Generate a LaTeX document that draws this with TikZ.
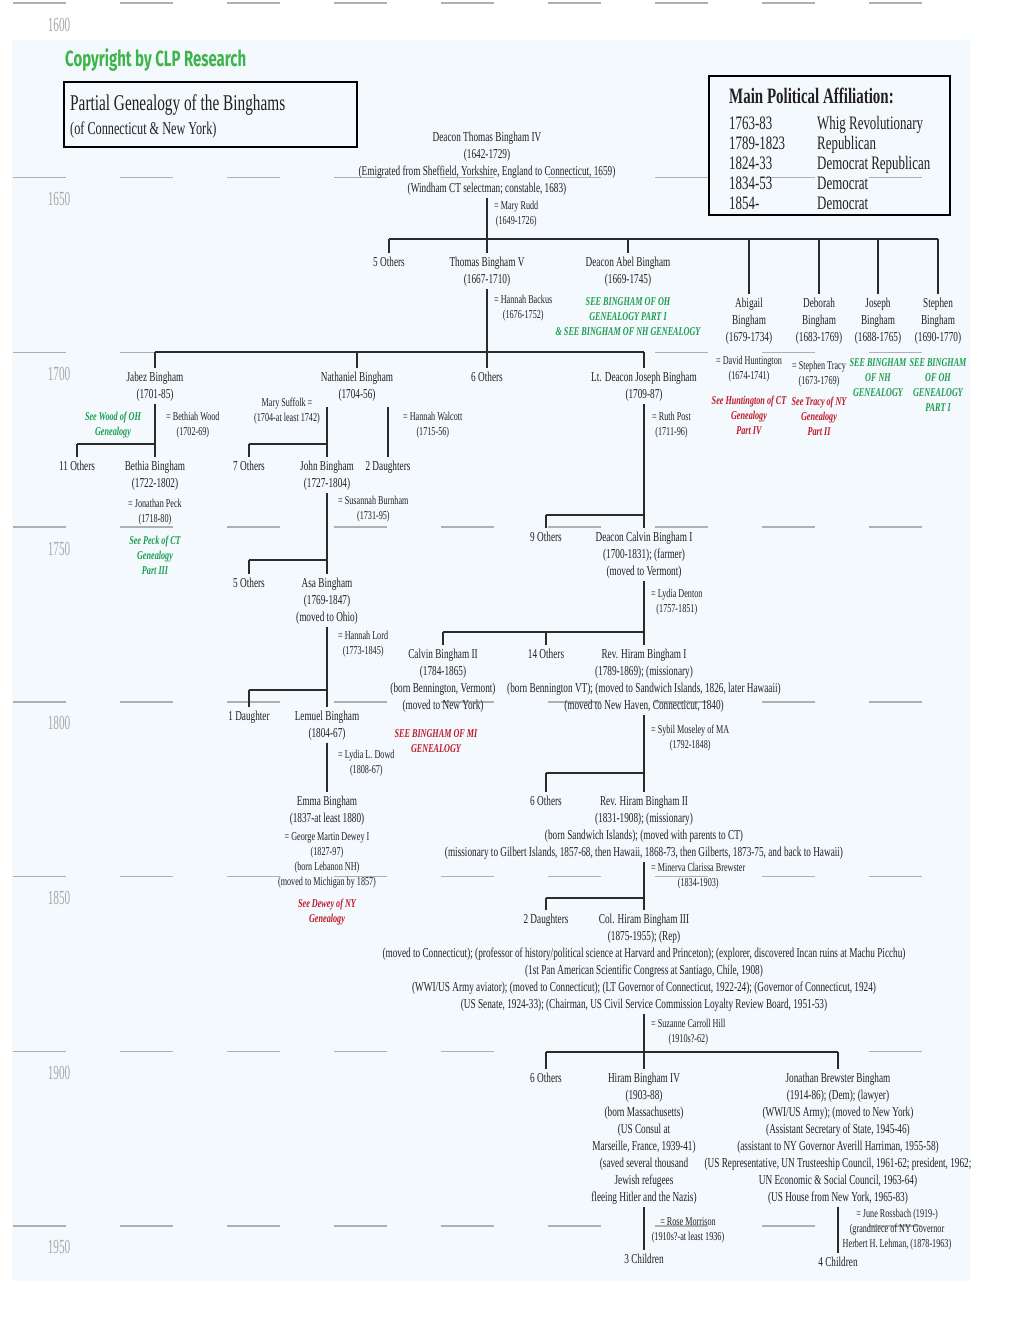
\documentclass[tikz,border=0pt]{standalone}
\usepackage{fontspec}
\setmainfont{Liberation Serif}[FakeStretch=0.68]
\newfontfamily\cpfont{Fira Sans}[FakeStretch=0.68]
\newfontfamily\yrfont{Liberation Serif}[FakeStretch=0.56]
\definecolor{bgc}{HTML}{F3F9FD}
\definecolor{txt}{HTML}{231F20}
\definecolor{linec}{HTML}{2B2B2B}
\definecolor{grn}{HTML}{1A9E4E}
\definecolor{cpg}{HTML}{3DB54A}
\definecolor{redc}{HTML}{C0182A}
\definecolor{tl}{HTML}{B0B0B0}
\definecolor{yr}{HTML}{A8A8A8}
\tikzset{
  P/.style={font=\fontsize{13.6}{17}\selectfont, align=center, inner sep=0pt, anchor=north, yshift=5pt, text=txt},
  S/.style={font=\fontsize{12}{15}\selectfont, align=center, inner sep=0pt, anchor=north, yshift=4.3pt, text=txt},
  SL/.style={S, anchor=north west},
  G/.style={font=\fontsize{12}{15}\selectfont\bfseries\itshape, align=center, inner sep=0pt, anchor=north, yshift=4.3pt, text=grn},
  R/.style={G, text=redc},
  tree/.style={line width=1.9pt, draw=linec},
  down/.style={tree, shorten <=2pt, shorten >=4pt},
  drop/.style={tree, shorten >=4pt},
  yrs/.style={font=\yrfont\fontsize{20}{20}\selectfont, text=yr, inner sep=0pt, anchor=base, yshift=-7pt},
  aff/.style={font=\fontsize{19}{19}\selectfont, text=txt, inner sep=0pt, anchor=base west, yshift=-6pt},
}
\begin{document}
\begin{tikzpicture}[x=1pt,y=-1pt]
\useasboundingbox (0,0) rectangle (1020,1320);
\fill[white] (0,0) rectangle (1020,1320);
\fill[bgc] (12,40) rectangle (970,1281);
% timeline
\foreach \k/\yy in {0/1600,1/1650,2/1700,3/1750,4/1800,5/1850,6/1900,7/1950}{
  \pgfmathsetmacro{\ty}{3+174.7*\k}
  \foreach \i in {0,...,8}{
    \draw[tl, line width=1.4pt] ({13+107*\i},\ty) -- ({66+107*\i},\ty);
  }
  \node[yrs] (y\yy) at (59,{\ty+21}) {\yy};
}
% header
\node[font=\cpfont\bfseries\fontsize{22}{22}\selectfont, text=cpg, anchor=west, inner sep=0pt] (cp) at (65,60) {Copyright by CLP Research};
\draw[line width=2.4pt, black] (64,82) rectangle (357,147);
\node[font=\fontsize{22.5}{22.5}\selectfont, text=txt, anchor=base west, inner sep=0pt] (title) at (70,110) {Partial Genealogy of the Binghams};
\node[font=\fontsize{18}{18}\selectfont, text=txt, anchor=base west, inner sep=0pt] (subtitle) at (70,134) {(of Connecticut \& New York)};
\draw[line width=2.4pt, black] (709,76) rectangle (950,215);
\node[font=\fontsize{22}{22}\selectfont\bfseries, text=txt, anchor=base west, inner sep=0pt] (afft) at (729,103) {Main Political Affiliation:};
\node[aff] (a1) at (729,123) {1763-83};     \node[aff] (b1) at (817,123) {Whig Revolutionary};
\node[aff] (a2) at (729,143) {1789-1823};   \node[aff] (b2) at (817,143) {Republican};
\node[aff] (a3) at (729,163) {1824-33};     \node[aff] (b3) at (817,163) {Democrat Republican};
\node[aff] (a4) at (729,183) {1834-53};     \node[aff] (b4) at (817,183) {Democrat};
\node[aff] (a5) at (729,203) {1854-};       \node[aff] (b5) at (817,203) {Democrat};

% level y coordinates
\coordinate (L1) at (0,239);
\coordinate (L2) at (0,352);
\coordinate (L3) at (0,444);
\coordinate (N3) at (0,407);
\coordinate (L4) at (0,560);
\coordinate (L4b) at (0,515);
\coordinate (L5) at (0,690);
\coordinate (L5b) at (0,632);
\coordinate (L6) at (0,773);
\coordinate (L7) at (0,898);
\coordinate (L8) at (0,1052);

% generation 1
\node[P] (t4) at (487,137) {Deacon Thomas Bingham IV\\(1642-1729)\\(Emigrated from Sheffield, Yorkshire, England to Connecticut, 1659)\\(Windham CT selectman; constable, 1683)};
\node[SL] (mr) at (494,205) {= Mary Rudd\\(1649-1726)};
% generation 2
\node[P] (o5a) at (389,262) {5 Others};
\node[P] (t5) at (487,262) {Thomas Bingham V\\(1667-1710)};
\node[P] (abel) at (628,262) {Deacon Abel Bingham\\(1669-1745)};
\node[SL] (hb) at (494,299) {= Hannah Backus\\(1676-1752)};
\node[G] (gabel) at (628,302) {SEE BINGHAM OF OH\\GENEALOGY PART I\\\& SEE BINGHAM OF NH GENEALOGY};
\node[P] (abig) at (749,303) {Abigail\\Bingham\\(1679-1734)};
\node[P] (debo) at (819,303) {Deborah\\Bingham\\(1683-1769)};
\node[P] (jos) at (878,303) {Joseph\\Bingham\\(1688-1765)};
\node[P] (steph) at (938,303) {Stephen\\Bingham\\(1690-1770)};
\node[S] (dh) at (749,360) {= David Huntington\\(1674-1741)};
\node[S] (st) at (819,365) {= Stephen Tracy\\(1673-1769)};
\node[R] (rh) at (749,400) {See Huntington of CT\\Genealogy\\Part IV};
\node[R] (rt) at (819,401) {See Tracy of NY\\Genealogy\\Part II};
\node[G] (gj) at (878,363) {SEE BINGHAM\\OF NH\\GENEALOGY};
\node[G] (gs) at (938,363) {SEE BINGHAM\\OF OH\\GENEALOGY\\PART I};
% generation 3
\node[P] (jabez) at (155,377) {Jabez Bingham\\(1701-85)};
\node[P] (nath) at (357,377) {Nathaniel Bingham\\(1704-56)};
\node[P] (o6a) at (487,377) {6 Others};
\node[P] (ljos) at (644,377) {Lt. Deacon Joseph Bingham\\(1709-87)};
\node[G] (gw) at (113,416) {See Wood of OH\\Genealogy};
\node[SL] (bw) at (166,416) {= Bethiah Wood\\(1702-69)};
\node[S] (ms) at (287,402) {Mary Suffolk =\\(1704-at least 1742)};
\node[SL] (hw) at (403,416) {= Hannah Walcott\\(1715-56)};
\node[SL] (rp) at (652,416) {= Ruth Post\\(1711-96)};
% generation 4
\node[P] (o11) at (77,466) {11 Others};
\node[P] (beth) at (155,466) {Bethia Bingham\\(1722-1802)};
\node[S] (jp) at (155,503) {= Jonathan Peck\\(1718-80)};
\node[G] (gp) at (155,540) {See Peck of CT\\Genealogy\\Part III};
\node[P] (o7) at (249,466) {7 Others};
\node[P] (john) at (327,466) {John Bingham\\(1727-1804)};
\node[P] (d2) at (388,466) {2 Daughters};
\node[SL] (sb) at (338,500) {= Susannah Burnham\\(1731-95)};
\node[P] (o9) at (546,537) {9 Others};
\node[P] (cal1) at (644,537) {Deacon Calvin Bingham I\\(1700-1831); (farmer)\\(moved to Vermont)};
\node[SL] (ldn) at (651,593) {= Lydia Denton\\(1757-1851)};
% generation 5
\node[P] (o5b) at (249,583) {5 Others};
\node[P] (asa) at (327,583) {Asa Bingham\\(1769-1847)\\(moved to Ohio)};
\node[SL] (hl) at (338,635) {= Hannah Lord\\(1773-1845)};
\node[P] (cal2) at (443,654) {Calvin Bingham II\\(1784-1865)\\(born Bennington, Vermont)\\(moved to New York)};
\node[P] (o14) at (546,654) {14 Others};
\node[P] (h1) at (644,654) {Rev. Hiram Bingham I\\(1789-1869); (missionary)\\(born Bennington VT); (moved to Sandwich Islands, 1826, later Hawaaii)\\(moved to New Haven, Connecticut, 1840)};
\node[R] (rmi) at (436,734) {SEE BINGHAM OF MI\\GENEALOGY};
\node[SL] (sm) at (651,729) {= Sybil Moseley of MA\\(1792-1848)};
% generation 6
\node[P] (d1) at (249,716) {1 Daughter};
\node[P] (lem) at (327,716) {Lemuel Bingham\\(1804-67)};
\node[SL] (ld) at (338,754) {= Lydia L. Dowd\\(1808-67)};
\node[P] (emma) at (327,801) {Emma Bingham\\(1837-at least 1880)};
\node[S] (gmd) at (327,837) {= George Martin Dewey I\\(1827-97)\\(born Lebanon NH)\\(moved to Michigan by 1857)};
\node[R] (rd) at (327,903) {See Dewey of NY\\Genealogy};
\node[P] (o6b) at (546,801) {6 Others};
\node[P] (h2) at (644,801) {Rev. Hiram Bingham II\\(1831-1908); (missionary)\\(born Sandwich Islands); (moved with parents to CT)\\(missionary to Gilbert Islands, 1857-68, then Hawaii, 1868-73, then Gilberts, 1873-75, and back to Hawaii)};
\node[SL] (mcb) at (651,867) {= Minerva Clarissa Brewster\\(1834-1903)};
% generation 7
\node[P] (d2b) at (546,919) {2 Daughters};
\node[P] (h3) at (644,919) {Col. Hiram Bingham III\\(1875-1955); (Rep)\\(moved to Connecticut); (professor of history/political science at Harvard and Princeton); (explorer, discovered Incan ruins at Machu Picchu)\\(1st Pan American Scientific Congress at Santiago, Chile, 1908)\\(WWI/US Army aviator); (moved to Connecticut); (LT Governor of Connecticut, 1922-24); (Governor of Connecticut, 1924)\\(US Senate, 1924-33); (Chairman, US Civil Service Commission Loyalty Review Board, 1951-53)};
\node[SL] (sch) at (651,1023) {= Suzanne Carroll Hill\\(1910s?-62)};
% generation 8
\node[P] (o6c) at (546,1078) {6 Others};
\node[P] (h4) at (644,1078) {Hiram Bingham IV\\(1903-88)\\(born Massachusetts)\\(US Consul at\\Marseille, France, 1939-41)\\(saved several thousand\\Jewish refugees\\fleeing Hitler and the Nazis)};
\node[P] (jbb) at (838,1078) {Jonathan Brewster Bingham\\(1914-86); (Dem); (lawyer)\\(WWI/US Army); (moved to New York)\\(Assistant Secretary of State, 1945-46)\\(assistant to NY Governor Averill Harriman, 1955-58)\\(US Representative, UN Trusteeship Council, 1961-62; president, 1962;\\UN Economic \& Social Council, 1963-64)\\(US House from New York, 1965-83)};
\node[S] (rm) at (688,1222) {= Rose Morrison\\(1910s?-at least 1936)};
\node[P] (c3) at (644,1259) {3 Children};
\node[S] (jr) at (897,1213) {= June Rossbach (1919-)\\(grandniece of NY Governor\\Herbert H. Lehman, (1878-1963)};
\node[P] (c4) at (838,1262) {4 Children};

% connectors
\draw[down] (t4) -- (t5);
\draw[tree] (o5a.north |- L1) -- (steph.north |- L1);
\foreach \n in {o5a,abel,abig,debo,jos,steph}{\draw[drop] (\n.north |- L1) -- (\n.north);}
\draw[down] (t5) -- (o6a);
\draw[tree] (jabez.north |- L2) -- (ljos.north |- L2);
\foreach \n in {jabez,nath,ljos}{\draw[drop] (\n.north |- L2) -- (\n.north);}
\draw[down] (jabez) -- (beth);
\draw[tree] (o11.north |- L3) -- (beth.north |- L3);
\draw[drop] (o11.north |- L3) -- (o11.north);
\draw[drop] (john.north |- N3) -- (john.north);
\draw[drop] (d2.north |- N3) -- (d2.north);
\draw[tree] (o7.north |- L3) -- (john.north |- L3);
\draw[drop] (o7.north |- L3) -- (o7.north);
\draw[down] (john) -- (asa);
\draw[tree] (o5b.north |- L4) -- (asa.north |- L4);
\draw[drop] (o5b.north |- L4) -- (o5b.north);
\draw[down] (asa) -- (lem);
\draw[tree] (d1.north |- L5) -- (lem.north |- L5);
\draw[drop] (d1.north |- L5) -- (d1.north);
\draw[down] (lem) -- (emma);
\draw[down] (ljos) -- (cal1);
\draw[tree] (o9.north |- L4b) -- (cal1.north |- L4b);
\draw[drop] (o9.north |- L4b) -- (o9.north);
\draw[down] (cal1) -- (h1);
\draw[tree] (cal2.north |- L5b) -- (h1.north |- L5b);
\draw[drop] (cal2.north |- L5b) -- (cal2.north);
\draw[drop] (o14.north |- L5b) -- (o14.north);
\draw[down] (h1) -- (h2);
\draw[tree] (o6b.north |- L6) -- (h2.north |- L6);
\draw[drop] (o6b.north |- L6) -- (o6b.north);
\draw[down] (h2) -- (h3);
\draw[tree] (d2b.north |- L7) -- (h3.north |- L7);
\draw[drop] (d2b.north |- L7) -- (d2b.north);
\draw[down] (h3) -- (h4);
\draw[tree] (o6c.north |- L8) -- (jbb.north |- L8);
\draw[drop] (o6c.north |- L8) -- (o6c.north);
\draw[drop] (jbb.north |- L8) -- (jbb.north);
\draw[down] (h4) -- (c3);
\draw[down] (jbb) -- (c4);
\end{tikzpicture}
\end{document}
